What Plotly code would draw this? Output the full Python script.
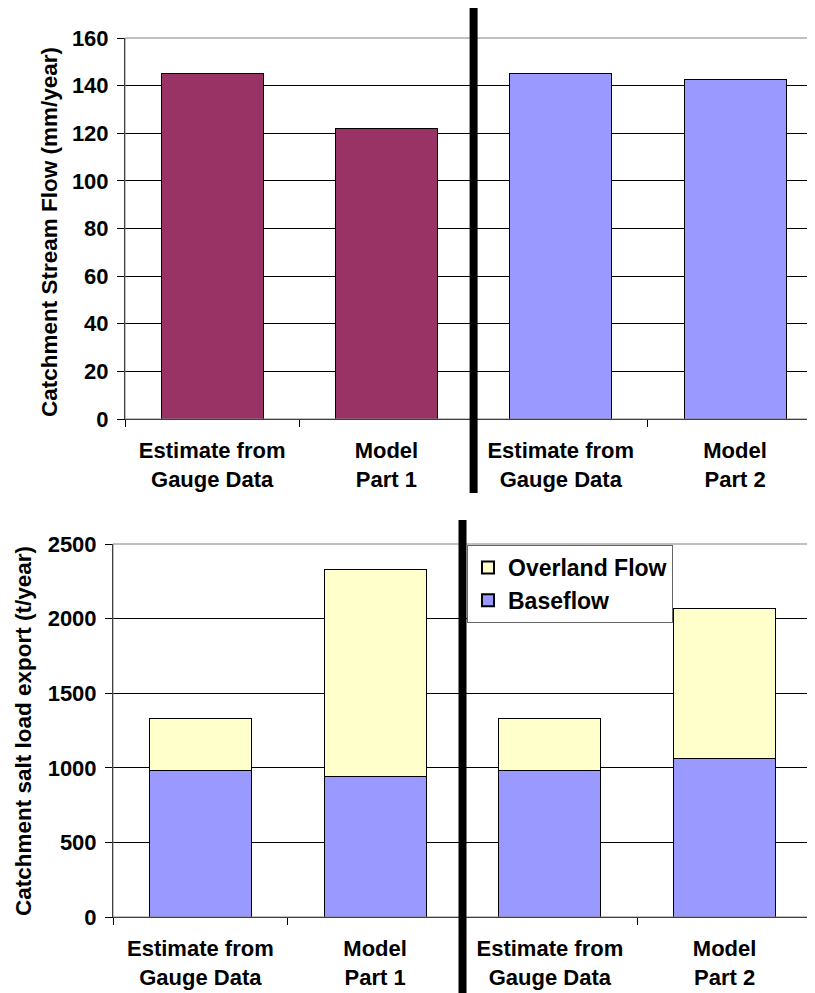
import plotly.graph_objects as go

# ---- data ----
categories = ["Estimate from<br>Gauge Data", "Model<br>Part 1",
              "Estimate from<br>Gauge Data", "Model<br>Part 2"]
stream_flow = [145, 122, 145, 142.5]           # mm/year
stream_colors = ["#993366", "#993366", "#9999FF", "#9999FF"]
baseflow = [985, 945, 985, 1060]               # t/year
overland = [345, 1385, 345, 1010]              # t/year
y1_ticks = [0, 20, 40, 60, 80, 100, 120, 140, 160]
y2_ticks = [0, 500, 1000, 1500, 2000, 2500]

# page body has an 8px margin: the figure is drawn at (8, 8) in the window
OFF = 8
W, H = 815 - OFF, 993 - OFF
FONT = "Liberation Sans"
xpos = list(range(len(categories)))

def px(v):  # window x -> paper fraction
    return (v - OFF) / W

def py(v):  # window y -> paper fraction
    return 1 - (v - OFF) / H

fig = go.Figure()

fig.add_trace(go.Bar(x=xpos, y=stream_flow, marker=dict(color=stream_colors, line=dict(color="black", width=1)),
                     width=0.585, showlegend=False, xaxis="x", yaxis="y"))
fig.add_trace(go.Bar(x=xpos, y=baseflow, name="Baseflow",
                     marker=dict(color="#9999FF", line=dict(color="black", width=1)),
                     width=0.585, xaxis="x2", yaxis="y2"))
fig.add_trace(go.Bar(x=xpos, y=overland, name="Overland Flow",
                     marker=dict(color="#FFFFCC", line=dict(color="black", width=1)),
                     width=0.585, xaxis="x2", yaxis="y2"))

tickfont = dict(family=FONT, size=22, color="black", weight="bold")

def xaxis(left, right, anchor, rng):
    return dict(domain=[px(left), min(1, px(right))], anchor=anchor, automargin=False,
                range=rng,
                tickmode="array", tickvals=xpos, ticktext=categories,
                ticks="", tickfont=tickfont, showline=True, linecolor="black", linewidth=1,
                showgrid=False, zeroline=False, ticklabelstandoff=12,
                minor=dict(tickmode="array", tickvals=[-0.5, 0.5, 1.5, 2.5, 3.5],
                           ticks="outside", ticklen=7, tickcolor="black", showgrid=False))

def yaxis(top, bottom, anchor, ticks, rng):
    return dict(domain=[py(bottom), py(top)], anchor=anchor, range=rng, automargin=False,
                tickmode="array", tickvals=ticks, ticks="outside", ticklen=7,
                tickcolor="black", tickfont=tickfont, showline=True, linecolor="black",
                linewidth=1, showgrid=True, gridcolor="black", gridwidth=1, zeroline=False,
                ticklabelstandoff=4)

fig.update_layout(
    width=W, height=H, margin=dict(l=0, r=0, t=0, b=0, autoexpand=False),
    paper_bgcolor="white", plot_bgcolor="white",
    barmode="stack",
    xaxis=xaxis(125, 815, "y", [-0.5, -0.5 + (815 - 125) / 174.3]),
    yaxis=yaxis(38, 419, "x", y1_ticks, [0, 160]),
    xaxis2=xaxis(113, 812, "y2", [-0.5, 3.5]),
    yaxis2=yaxis(544, 917, "x2", y2_ticks, [0, 2500]),
    showlegend=True,
    legend=dict(x=px(467), y=py(545), xanchor="left", yanchor="top",
                traceorder="reversed", bgcolor="white", bordercolor="#666666", borderwidth=1,
                font=dict(family=FONT, size=23, color="black", weight="bold"),
                itemsizing="constant", itemwidth=30, tracegroupgap=0),
    shapes=[
        # plot-area borders (grey)
        dict(type="rect", xref="x domain", yref="y domain", x0=0, x1=1, y0=0, y1=1,
             line=dict(color="#808080", width=1), layer="above"),
        dict(type="rect", xref="x2 domain", yref="y2 domain", x0=0, x1=1, y0=0, y1=1,
             line=dict(color="#808080", width=1), layer="above"),
        # thick separators between the two parts
        dict(type="line", xref="x", yref="paper", x0=1.5, x1=1.5, y0=py(493), y1=1,
             line=dict(color="black", width=8)),
        dict(type="line", xref="x2", yref="paper", x0=1.5, x1=1.5, y0=0, y1=py(520),
             line=dict(color="black", width=8)),
    ],
    annotations=[
        dict(text="Catchment Stream Flow (mm/year)", textangle=-90, xref="paper", yref="paper",
             x=px(49), y=py(232), showarrow=False, xanchor="center", yanchor="middle",
             font=dict(family=FONT, size=22.5, color="black", weight="bold")),
        dict(text="Catchment salt load export (t/year)", textangle=-90, xref="paper", yref="paper",
             x=px(23), y=py(731), showarrow=False, xanchor="center", yanchor="middle",
             font=dict(family=FONT, size=22.5, color="black", weight="bold")),
    ],
)

fig.write_html("out.html")
